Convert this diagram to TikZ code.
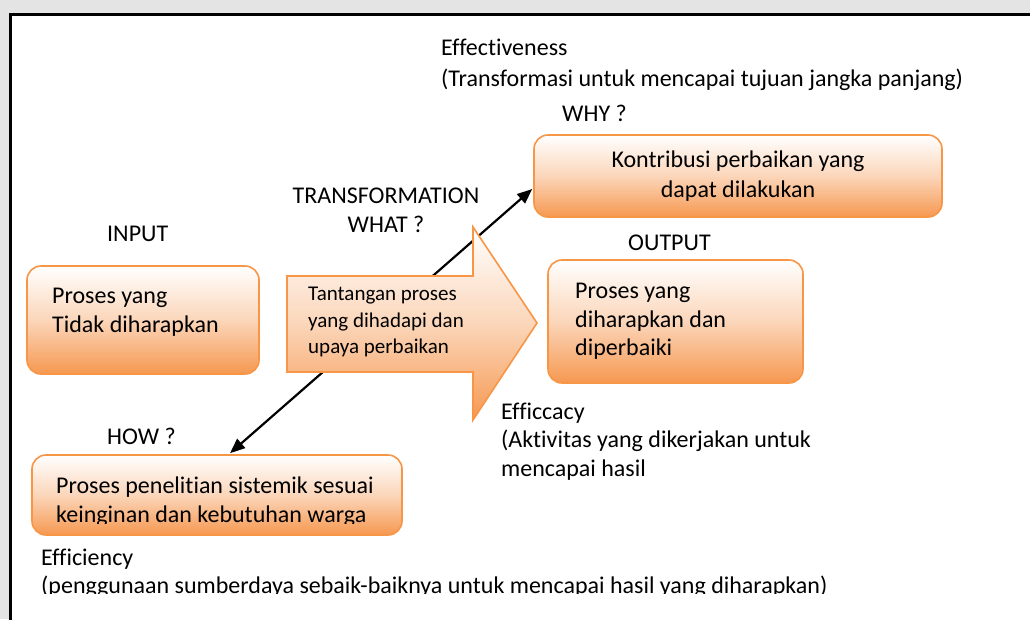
\documentclass[tikz,border=0pt]{standalone}
\usepackage{fontspec}
\setmainfont{Carlito}[Ligatures=NoCommon]
\usetikzlibrary{arrows.meta,calc}
\definecolor{accentline}{RGB}{247,150,70}
\definecolor{accentfill}{RGB}{246,152,80}
\definecolor{accentmid}{RGB}{251,214,186}
\definecolor{wmgray}{RGB}{228,228,228}

\begin{document}
\begin{tikzpicture}[x=1pt,y=-1pt,
  procbox/.style={rounded corners=14pt, draw=accentline, line width=1.6pt,
    top color=white, bottom color=accentfill, middle color=accentmid, inner sep=0pt},
  txt/.style={font=\fontsize{24}{29}\selectfont, inner sep=0pt, anchor=west, align=left},
  smalltxt/.style={font=\fontsize{21}{26.5}\selectfont, inner sep=0pt, anchor=west, align=left},
  link/.style={line width=2.2pt, {Triangle[length=15pt,width=12pt]}-{Triangle[length=15pt,width=12pt]}}
]
\clip (0,0) rectangle (1030,619);
\useasboundingbox (0,0) rectangle (1030,619);
\fill[white] (0,0) rectangle (1030,619);

% grey band outside the frame
\fill[wmgray] (0,0) rectangle (1030,14);
\fill[wmgray] (0,0) rectangle (9,619);

% frame
\draw[line width=2.6pt] (10.5,640) -- (10.5,14.7) -- (1045,14.7);

% top labels
\node[txt, font=\fontsize{24}{31}\selectfont] (effect) at (441,64.5)
  {Effectiveness\\(Transformasi untuk mencapai tujuan jangka panjang)};
\node[txt] (why) at (562,113) {WHY ?};

% boxes
\node[procbox, minimum width=408pt, minimum height=82pt, align=center,
  font=\fontsize{24}{30}\selectfont] (contrib) at (738,176)
  {Kontribusi perbaikan yang\\dapat dilakukan};
\node[procbox, minimum width=232pt, minimum height=108pt] (inbox) at (143,320) {};
\node[procbox, minimum width=255pt, minimum height=123pt] (outbox) at (675.5,321.5) {};
\node[procbox, minimum width=370pt, minimum height=80pt] (howbox) at (217,495) {};

\node[txt] (intext) at (52,312.5) {Proses yang\\Tidak diharapkan};
\node[txt, font=\fontsize{24}{28.5}\selectfont] (outtext) at (575,321.5)
  {Proses yang\\diharapkan dan\\diperbaiki};

% labels around the boxes
\node[txt, align=center, anchor=center] (transf) at (386,210.5) {TRANSFORMATION\\WHAT ?};
\node[txt] (input) at (107,234) {INPUT};
\node[txt] (output) at (628,243) {OUTPUT};
\node[txt] (how) at (107,436) {HOW ?};
\node[txt, font=\fontsize{24}{28.5}\selectfont] (efficacy) at (501,441.5)
  {Efficcacy\\(Aktivitas yang dikerjakan untuk\\mencapai hasil};

% double-headed connector, partly hidden by the block arrow
\coordinate (lowend) at ($(howbox.north)+(13,-1)$);
\coordinate (highend) at ($(contrib.west)+(-1,13)$);
\draw[link] (lowend) -- (highend);

% block arrow
\path[draw=accentline, line width=1.6pt, top color=white, bottom color=accentfill,
  middle color=accentmid, line join=miter]
  (287,276) -- (473,276) -- (473,227) -- (537,323) -- (473,420) -- (473,372) -- (287,372) -- cycle;
\node[smalltxt] (challenge) at (308,322)
  {Tantangan proses\\yang dihadapi dan\\upaya perbaikan};

% texts cut off at their lower edge
\begin{scope}
  \clip (0,0) rectangle (1030,523);
  \node[txt] (howtext) at (56,502) {Proses penelitian sistemik sesuai\\keinginan dan kebutuhan warga};
\end{scope}
\begin{scope}
  \clip (0,0) rectangle (1030,593);
  \node[txt, font=\fontsize{24}{28}\selectfont] (efficiency) at (41,573.5)
    {Efficiency\\(penggunaan sumberdaya sebaik-baiknya untuk mencapai hasil yang diharapkan)};
\end{scope}
\end{tikzpicture}
\end{document}
